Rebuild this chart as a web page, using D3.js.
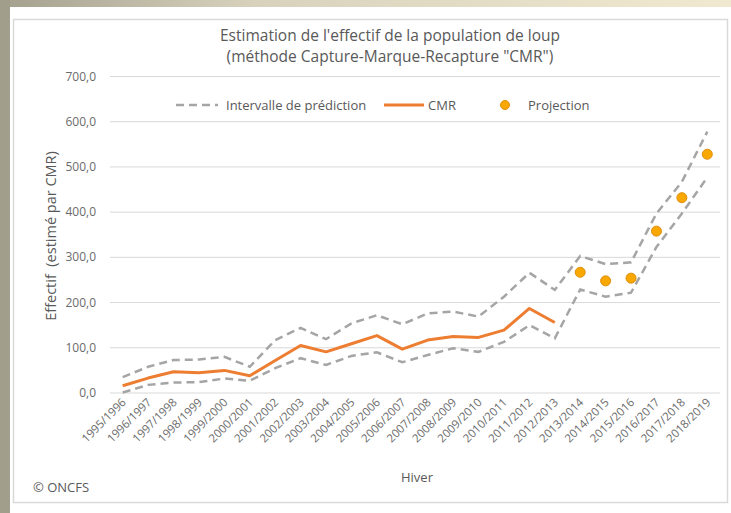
<!DOCTYPE html>
<html>
<head>
<meta charset="utf-8">
<script src="https://cdn.jsdelivr.net/npm/d3@7"></script>
<style>
body{margin:0;padding:0;}
svg{display:block;font-family:"Open Sans",sans-serif;}
</style>
</head>
<body>
<svg id="chart" width="731" height="513"></svg>
<script>
let hivers=["1995/1996","1996/1997","1997/1998","1998/1999","1999/2000","2000/2001","2001/2002","2002/2003","2003/2004","2004/2005","2005/2006","2006/2007","2007/2008","2008/2009","2009/2010","2010/2011","2011/2012","2012/2013","2013/2014","2014/2015","2015/2016","2016/2017","2017/2018","2018/2019"]
let cmr=[16,33,47,45,50,38,72,105,91,109,127,97,117,125,123,139,187,156]
let intHaut=[35,58,73,74,80,58,117,144,119,154,172,152,176,180,169,213,266,228,303,285,289,397,467,578]
let intBas=[1,18,23,24,32,27,55,77,62,82,90,68,84,99,91,113,150,121,229,213,222,323,397,477]
let projHivers=["2013/2014","2014/2015","2015/2016","2016/2017","2017/2018","2018/2019"]
let projection=[267,248,254,358,432,528]
let yTicks=[0,100,200,300,400,500,600,700]

let svg=d3.select("#chart")
let W=731,H=513

// fond
let grad=svg.append("defs").append("linearGradient").attr("id","bg")
grad.append("stop").attr("offset","0%").attr("stop-color","#a3a08e")
grad.append("stop").attr("offset","35%").attr("stop-color","#d8d2bd")
grad.append("stop").attr("offset","100%").attr("stop-color","#f1e9cf")
svg.append("rect").attr("width",W).attr("height",H).attr("fill","#ffffff")
svg.append("rect").attr("width",W).attr("height",7).attr("fill","url(#bg)")
svg.append("rect").attr("width",10).attr("height",H).attr("fill","#a19e8b")
svg.append("rect").attr("x",13.5).attr("y",19.5).attr("width",714).attr("height",483)
	.attr("fill","#fff").attr("stroke","#d9d9d9").attr("stroke-width",1.5)

let x=d3.scalePoint().domain(hivers).range([110,720]).padding(0.5)
let y=d3.scaleLinear().domain([0,700]).range([393,76.5])

// grille
svg.append("g").selectAll("line").data(yTicks).enter().append("line")
	.attr("x1",110).attr("x2",720)
	.attr("y1",d=>y(d)).attr("y2",d=>y(d))
	.attr("stroke","#d9d9d9").attr("stroke-width",1)

let fmt=d=>d3.format(".1f")(d).replace(".",",")
svg.append("g").selectAll("text").data(yTicks).enter().append("text")
	.attr("x",96).attr("y",d=>y(d)+4)
	.attr("text-anchor","end").attr("font-size",12).attr("fill","#6b6b6b")
	.text(fmt)

svg.append("g").selectAll("text").data(hivers).enter().append("text")
	.attr("transform",d=>"translate("+(x(d)+4)+",403) rotate(-45)")
	.attr("text-anchor","end").attr("font-size",11.5).attr("fill","#6b6b6b")
	.text(d=>d)

// courbes
let line=d3.line().x(d=>x(d.h)).y(d=>y(d.v))
let toPts=arr=>arr.map((v,i)=>({h:hivers[i],v:v}))

svg.append("path").attr("d",line(toPts(intHaut)))
	.attr("fill","none").attr("stroke","#a5a5a5").attr("stroke-width",2.5).attr("stroke-dasharray","8,5")
svg.append("path").attr("d",line(toPts(intBas)))
	.attr("fill","none").attr("stroke","#a5a5a5").attr("stroke-width",2.5).attr("stroke-dasharray","8,5")
svg.append("path").attr("d",line(toPts(cmr)))
	.attr("fill","none").attr("stroke","#ed7d31").attr("stroke-width",3).attr("stroke-linejoin","round")

svg.append("g").selectAll("circle").data(projection).enter().append("circle")
	.attr("cx",(d,i)=>x(projHivers[i])).attr("cy",d=>y(d)).attr("r",5)
	.attr("fill","#f8a800").attr("stroke","#e08e0b").attr("stroke-width",1)

// titres
svg.append("text").attr("x",390).attr("y",41).attr("text-anchor","middle")
	.attr("font-size",15.5).attr("fill","#595959").text("Estimation de l'effectif de la population de loup")
svg.append("text").attr("x",390).attr("y",62).attr("text-anchor","middle")
	.attr("font-size",15.5).attr("fill","#595959").text("(méthode Capture-Marque-Recapture \"CMR\")")

svg.append("text").attr("transform","translate(56,236) rotate(-90)").attr("text-anchor","middle")
	.attr("font-size",14.5).attr("fill","#595959").attr("xml:space","preserve").text("Effectif  (estimé par CMR)")
svg.append("text").attr("x",417).attr("y",482).attr("text-anchor","middle")
	.attr("font-size",13).attr("fill","#595959").text("Hiver")
svg.append("text").attr("x",33).attr("y",492)
	.attr("font-size",13).attr("fill","#595959").text("© ONCFS")

// légende
let lg=svg.append("g").attr("font-size",13).attr("fill","#595959")
lg.append("line").attr("x1",176).attr("x2",218).attr("y1",105).attr("y2",105)
	.attr("stroke","#a5a5a5").attr("stroke-width",2.5).attr("stroke-dasharray","8,5")
lg.append("text").attr("x",226).attr("y",109.5).text("Intervalle de prédiction")
lg.append("line").attr("x1",384).attr("x2",424).attr("y1",105).attr("y2",105)
	.attr("stroke","#ed7d31").attr("stroke-width",3)
lg.append("text").attr("x",428).attr("y",109.5).text("CMR")
lg.append("circle").attr("cx",505).attr("cy",105).attr("r",4.5)
	.attr("fill","#f8a800").attr("stroke","#e08e0b")
lg.append("text").attr("x",528).attr("y",109.5).text("Projection")
</script>
</body>
</html>
